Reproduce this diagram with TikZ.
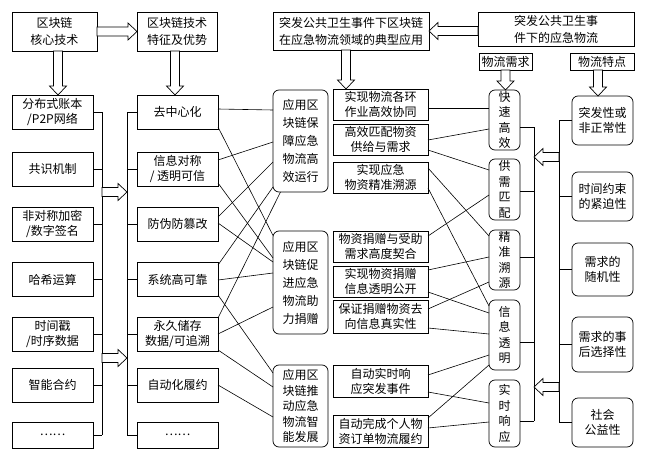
\documentclass[tikz,border=0pt]{standalone}
\usepackage{fontspec}
\setmainfont{Noto Sans CJK SC}
\usetikzlibrary{calc}
\newcommand\setlead[1]{\fontsize{12}{#1}\selectfont}
% hollow block arrow from #1 to its tip #2
\newcommand\hollowarrow[2]{%
  \coordinate (hab) at ($(#2)!9pt!(#1)$);
  \draw[hollow] ($(#1)!4.5pt!90:(#2)$) -- ($(hab)!4.5pt!90:(#2)$) -- ($(hab)!8.5pt!90:(#2)$) -- (#2)
     -- ($(hab)!8.5pt!-90:(#2)$) -- ($(hab)!4.5pt!-90:(#2)$) -- ($(#1)!4.5pt!-90:(#2)$) -- cycle;}
\begin{document}
\begin{tikzpicture}[x=1pt,y=-1pt,
  every node/.style={inner sep=0pt, outer sep=0pt},
  box/.style={draw=black, line width=0.7pt, fill=white, align=center, font=\setlead{15}},
  rbox/.style={box, rounded corners=6pt},
  link/.style={line width=0.6pt},
  hollow/.style={draw=black, line width=0.7pt, fill=white, line join=miter},
]
\fill[white] (0,0) rectangle (649,458);
\useasboundingbox (0,0) rectangle (649,458);

% top row
\node[box, font=\setlead{17}, minimum width=85, minimum height=39] (tA) at (54.5,31.5) {区块链\\核心技术};
\node[box, font=\setlead{17}, minimum width=80, minimum height=39] (tB) at (177,31.5) {区块链技术\\特征及优势};
\node[box, font=\setlead{17}, minimum width=156, minimum height=38] (tC) at (351,31) {突发公共卫生事件下区块链\\在应急物流领域的典型应用};
\node[box, font=\setlead{17}, minimum width=156, minimum height=34] (tD) at (556,29) {突发公共卫生事\\件下的应急物流};
\node[box, minimum width=53, minimum height=17] (nA) at (505.5,61.5) {物流需求};
\node[box, minimum width=64, minimum height=17] (nB) at (602,61.5) {物流特点};

% column 1: core technologies
\begin{scope}[every node/.append style={box, minimum width=81, minimum height=34}]
\node (c11) at (52.5,112) {分布式账本\\/P2P网络};
\node (c12) at (52.5,169) {共识机制};
\node (c13) at (52.5,224) {非对称加密\\/数字签名};
\node (c14) at (52.5,279.5) {哈希运算};
\node (c15) at (52.5,334.5) {时间戳\\/时序数据};
\node (c16) at (52.5,385) {智能合约};
\node[minimum height=26] (c17) at (52.5,435) {……};
% column 2: features and advantages
\node (c21) at (177.5,112) {去中心化};
\node (c22) at (177.5,169) {信息对称\\/ 透明可信};
\node (c23) at (177.5,224) {防伪防篡改};
\node (c24) at (177.5,279.5) {系统高可靠};
\node (c25) at (177.5,334.5) {永久储存\\数据/可追溯};
\node (c26) at (177.5,385) {自动化履约};
\node[minimum height=26] (c27) at (177.5,435) {……};
\end{scope}

% column 3: application groups
\node[rbox, font=\setlead{18}, minimum width=55, minimum height=102] (c31) at (300.5,141) {应用区\\块链保\\障应急\\物流高\\效运行};
\node[rbox, font=\setlead{18}, minimum width=55, minimum height=103] (c32) at (300.5,282.5) {应用区\\块链促\\进应急\\物流助\\力捐赠};
\node[rbox, font=\setlead{15.5}, minimum width=55, minimum height=82] (c33) at (300.5,406) {应用区\\块链推\\动应急\\物流智\\能发展};

% column 4: typical applications
\begin{scope}[every node/.append style={box, line width=0.9pt, minimum width=95, minimum height=31}]
\node (c41) at (380.5,104.5) {实现物流各环\\作业高效协同};
\node (c42) at (380.5,139.5) {高效匹配物资\\供给与需求};
\node (c43) at (380.5,177.5) {实现应急\\物资精准溯源};
\node (c44) at (380.5,246.5) {物资捐赠与受助\\需求高度契合};
\node (c45) at (380.5,281.5) {实现物资捐赠\\信息透明公开};
\node[minimum height=33] (c46) at (380.5,316.5) {保证捐赠物资去\\向信息真实性};
\node[minimum height=32] (c47) at (380.5,381) {自动实时响\\应突发事件};
\node[minimum height=32] (c48) at (380.5,431) {自动完成个人物\\资订单物流履约};
\end{scope}

% column 5: logistics demands
\begin{scope}[every node/.append style={rbox, font=\setlead{15.5}, minimum width=31}]
\node[minimum height=60] (d1) at (504.5,120) {快\\速\\高\\效};
\node[minimum height=61] (d2) at (504.5,189.5) {供\\需\\匹\\配};
\node[minimum height=60] (d3) at (504.5,260) {精\\准\\溯\\源};
\node[minimum height=70] (d4) at (504.5,335) {信\\息\\透\\明};
\node[minimum height=67] (d5) at (504.5,413.5) {实\\时\\响\\应};
\end{scope}

% column 6: logistics characteristics
\begin{scope}[every node/.append style={rbox, minimum width=61}]
\node[minimum height=49] (e1) at (602.5,120.5) {突发性或\\非正常性};
\node[minimum height=49] (e2) at (602.5,196.5) {时间约束\\的紧迫性};
\node[minimum height=53] (e3) at (602.5,269.5) {需求的\\随机性};
\node[minimum height=55] (e4) at (602.5,344.5) {需求的事\\后选择性};
\node[minimum height=49] (e5) at (602.5,422.5) {社会\\公益性};
\end{scope}

% bus lines
\coordinate (bus1) at (102,0);
\coordinate (bus2) at (127,0);
\coordinate (bus5) at (534,0);
\coordinate (bus6) at (559,0);
\foreach \i in {1,...,7} {
  \draw[link] (c1\i.east) -- (c1\i.east -| bus1);
  \draw[link] (bus2 |- c2\i.west) -- (c2\i.west);
}
\draw[link] (c11.east -| bus1) -- (c17.east -| bus1);
\draw[link] (bus2 |- c21.west) -- (bus2 |- c27.west);

\coordinate (t1) at ([yshift=-7pt]d1.east);
\coordinate (t2) at ([yshift=-1.5pt]d2.east);
\coordinate (t3) at ([yshift=3pt]d3.east);
\coordinate (t4) at ([yshift=-7pt]d4.east);
\coordinate (t5) at ([yshift=-7.5pt]d5.east);
\foreach \i in {1,...,5} {
  \draw[link] (t\i) -- (t\i -| bus5);
  \draw[link] (bus6 |- e\i.west) -- (e\i.west);
}
\draw[link] (t1 -| bus5) -- (t5 -| bus5);
\draw[link] (bus6 |- e1.west) -- (bus6 |- e5.west);

% features -> application groups
\draw[link] ([yshift=3pt]c21.east) -- ([yshift=31pt]c31.west);
\draw[link] ([yshift=-15pt]c21.east) -- ([yshift=47pt]c32.west);
\draw[link] ([yshift=9pt]c22.east) -- ([yshift=-1pt]c31.west);
\draw[link] ([yshift=-14pt]c22.east) -- ([yshift=24.5pt]c32.west);
\draw[link] ([yshift=7pt]c23.east) -- ([yshift=-21pt]c31.west);
\draw[link] ([yshift=1pt]c23.east) -- ([yshift=20.5pt]c32.west);
\draw[link] ([yshift=14.5pt]c24.east) -- ([yshift=-46pt]c31.west);
\draw[link] ([yshift=-0.5pt]c24.east) -- ([yshift=9.5pt]c32.west);
\draw[link] ([yshift=-15.5pt]c24.east) -- ([yshift=33pt]c33.west);
\draw[link] ([yshift=16.5pt]c25.east) -- ([xshift=-20pt]c31.south);
\draw[link] ([yshift=0.5pt]c25.east) -- ([yshift=-24.5pt]c32.west);
\draw[link] ([yshift=-15.5pt]c25.east) -- ([yshift=19pt]c33.west);
\draw[link] (c26.east) -- ([yshift=-11pt]c33.west);

% applications -> demands
\draw[link] ([yshift=-3.5pt]c41.east) -- ([yshift=12pt]d1.west);
\draw[link] ([yshift=-0.5pt]c42.east) -- ([yshift=-9pt]d1.west);
\draw[link] ([yshift=-10.5pt]c42.east) -- ([yshift=19.5pt]d2.west);
\draw[link] ([yshift=9.5pt]c43.east) -- ([yshift=24pt]d3.west);
\draw[link] ([yshift=-10.5pt]c43.east) -- ([yshift=29pt]d4.west);
\draw[link] ([yshift=10.5pt]c44.east) -- ([yshift=-5.5pt]d2.west);
\draw[link] ([yshift=11.5pt]c45.east) -- ([yshift=3pt]d3.west);
\draw[link] ([yshift=-10.5pt]c45.east) -- ([yshift=22pt]d4.west);
\draw[link] ([yshift=7.5pt]c46.east) -- ([yshift=-22pt]d3.west);
\draw[link] ([yshift=-11.5pt]c46.east) -- ([yshift=1pt]d4.west);
\draw[link] ([yshift=6pt]c47.east) -- ([yshift=-20pt]d4.west);
\draw[link] ([yshift=-11pt]c47.east) -- ([yshift=10.5pt]d5.west);
\draw[link] ([yshift=13pt]c48.east) -- ([yshift=-30pt]d4.west);
\draw[link] ([yshift=3pt]c48.east) -- ([yshift=-8.5pt]d5.west);

% hollow block arrows
\hollowarrow{tA.east}{tB.west}
\coordinate (aDs) at ($(tD.west)+(0,2)$);
\coordinate (aDt) at (tC.east |- aDs);
\hollowarrow{aDs}{aDt}
\coordinate (aAs) at ([xshift=3.5pt]tA.south);
\coordinate (aAt) at (aAs |- c11.north);
\hollowarrow{aAs}{aAt}
\coordinate (aBs) at ([xshift=-2pt]tB.south);
\coordinate (aBt) at (aBs |- c21.north);
\hollowarrow{aBs}{aBt}
\coordinate (aCs) at ([xshift=-5pt]tC.south);
\coordinate (aCt) at (aCs |- c41.north);
\hollowarrow{aCs}{aCt}
\coordinate (aNs) at (nA.south);
\coordinate (aNt) at (aNs |- d1.north);
\hollowarrow{aNs}{aNt}
\coordinate (aMs) at ([xshift=-4pt]nB.south);
\coordinate (aMt) at (aMs |- e1.north);
\hollowarrow{aMs}{aMt}
\coordinate (g1s) at (102,192);
\coordinate (g1t) at (127,192);
\hollowarrow{g1s}{g1t}
\coordinate (g2s) at (102,358);
\coordinate (g2t) at (127,358);
\hollowarrow{g2s}{g2t}
\coordinate (f1s) at (559,157);
\coordinate (f1t) at (534,157);
\hollowarrow{f1s}{f1t}
\coordinate (f2s) at (559,387);
\coordinate (f2t) at (534,387);
\hollowarrow{f2s}{f2t}
\end{tikzpicture}
\end{document}
